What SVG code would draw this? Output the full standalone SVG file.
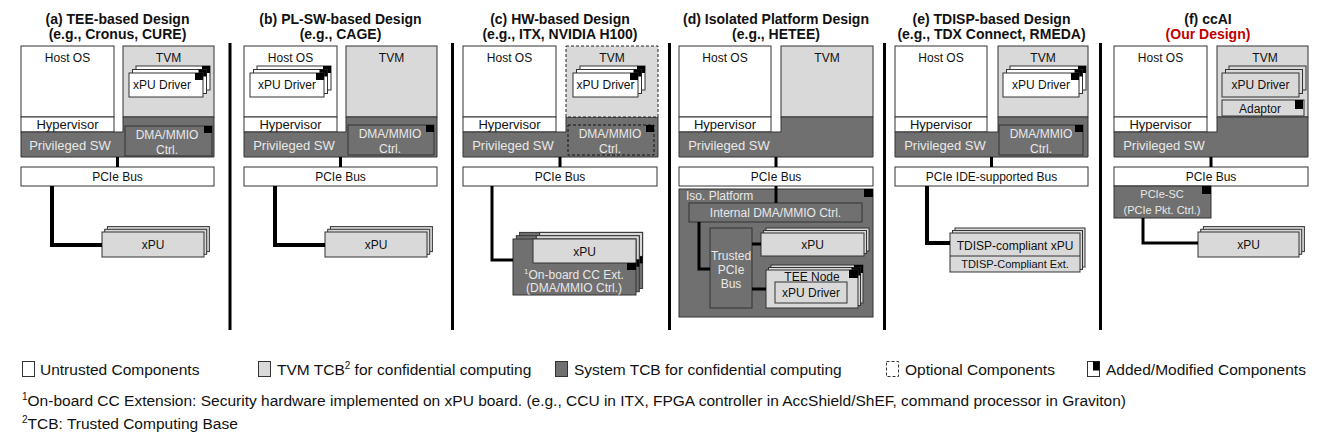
<svg xmlns="http://www.w3.org/2000/svg" width="1325" height="435" viewBox="0 0 1325 435">
<style>
text{font-family:"Liberation Sans",Arial,sans-serif;font-size:12px;text-anchor:middle;fill:#111}
.ttl{font-weight:bold;font-size:14px}
.red{fill:#c00000}
.hv{font-size:13px}
.lt{fill:#e8e8e8}
.sm{font-size:11px}
.lg{font-size:15.5px;text-anchor:start}
.st{text-anchor:start}
.w{fill:#fff;stroke:#333;stroke-width:1}
.l{fill:#d9d9d9;stroke:#333;stroke-width:1}
.d{fill:#707070;stroke:#333;stroke-width:1}
.ds{stroke-dasharray:3,2}
.mk{fill:#000;stroke:none}
.sep{stroke:#000;stroke-width:3}
.c4{stroke:#000;stroke-width:4;fill:none}
.c3{stroke:#000;stroke-width:3;fill:none}
</style>
<rect width="1325" height="435" fill="#fff"/>

<g id="separators">
<line class="sep" x1="230" y1="43" x2="230" y2="330"/>
<line class="sep" x1="452.5" y1="43" x2="452.5" y2="330"/>
<line class="sep" x1="669.5" y1="43" x2="669.5" y2="330"/>
<line class="sep" x1="884.5" y1="43" x2="884.5" y2="330"/>
<line class="sep" x1="1100.5" y1="43" x2="1100.5" y2="330"/>
</g>

<g id="titles">
<text class="ttl" x="117.5" y="24">(a) TEE-based Design</text>
<text class="ttl" x="117.5" y="39">(e.g., Cronus, CURE)</text>
<text class="ttl" x="340.5" y="24">(b) PL-SW-based Design</text>
<text class="ttl" x="340.5" y="39">(e.g., CAGE)</text>
<text class="ttl" x="560" y="24">(c) HW-based Design</text>
<text class="ttl" x="560" y="39">(e.g., ITX, NVIDIA H100)</text>
<text class="ttl" x="776" y="24">(d) Isolated Platform Design</text>
<text class="ttl" x="776" y="39">(e.g., HETEE)</text>
<text class="ttl" x="991.5" y="24">(e) TDISP-based Design</text>
<text class="ttl" x="991.5" y="39">(e.g., TDX Connect, RMEDA)</text>
<text class="ttl" x="1208" y="24">(f) ccAI</text>
<text class="ttl red" x="1208" y="39">(Our Design)</text>
</g>

<!-- ===== (a) ===== -->
<g id="a-host">
<rect class="w" x="21" y="46" width="93" height="71"/>
<text x="67.5" y="62">Host OS</text>
<rect class="w" x="21" y="117" width="93" height="15"/>
<text class="hv" x="67.5" y="129">Hypervisor</text>
</g>
<g id="a-tvm">
<rect class="l" x="123" y="46" width="91" height="71"/>
<text x="168.5" y="62">TVM</text>
</g>
<g id="a-priv">
<path class="d" d="M21,132 H123 V117 H214 V157 H21 Z"/>
<text class="hv lt" x="70" y="150">Privileged SW</text>
</g>
<g id="a-dma">
<rect class="d" x="125" y="126" width="87" height="30"/>
<rect class="mk" x="204" y="126" width="8" height="7"/>
<text class="lt" x="167" y="139">DMA/MMIO</text>
<text class="lt" x="167" y="154">Ctrl.</text>
</g>
<g id="a-driver">
<rect class="w" x="136" y="66" width="74" height="24"/><rect class="mk" x="202" y="66" width="8" height="7"/>
<rect class="w" x="132.5" y="69.5" width="74" height="24"/><rect class="mk" x="198.5" y="69.5" width="8" height="7"/>
<rect class="w" x="129" y="73" width="74" height="24"/><rect class="mk" x="195" y="73" width="8" height="7"/>
<text x="162" y="89">xPU Driver</text>
</g>
<g id="a-pcie">
<rect class="w" x="21" y="167" width="193" height="19"/>
<text x="117.5" y="181">PCIe Bus</text>
</g>
<g id="a-xpu">
<rect class="l" x="107.4" y="226.6" width="102" height="25"/>
<rect class="l" x="104.7" y="229.3" width="102" height="25"/>
<rect class="l" x="102" y="232" width="102" height="25"/>
<text x="153" y="249">xPU</text>
</g>

<!-- ===== (b) ===== -->
<g id="b-host">
<rect class="w" x="244" y="46" width="93" height="71"/>
<text x="290.5" y="62">Host OS</text>
<rect class="w" x="244" y="117" width="93" height="15"/>
<text class="hv" x="290.5" y="129">Hypervisor</text>
</g>
<g id="b-driver">
<rect class="w" x="257" y="66" width="74" height="24"/><rect class="mk" x="323" y="66" width="8" height="7"/>
<rect class="w" x="253.5" y="69.5" width="74" height="24"/><rect class="mk" x="319.5" y="69.5" width="8" height="7"/>
<rect class="w" x="250" y="73" width="74" height="24"/><rect class="mk" x="316" y="73" width="8" height="7"/>
<text x="287" y="89">xPU Driver</text>
</g>
<g id="b-tvm">
<rect class="l" x="346" y="46" width="91" height="71"/>
<text x="391.5" y="62">TVM</text>
</g>
<g id="b-priv">
<path class="d" d="M244,132 H346 V117 H437 V157 H244 Z"/>
<text class="hv lt" x="294" y="150">Privileged SW</text>
</g>
<g id="b-dma">
<rect class="d" x="348" y="125" width="86" height="30"/>
<rect class="mk" x="426" y="125" width="8" height="7"/>
<text class="lt" x="390" y="138">DMA/MMIO</text>
<text class="lt" x="390" y="153">Ctrl.</text>
</g>
<g id="b-pcie">
<rect class="w" x="244" y="167" width="193" height="19"/>
<text x="340.5" y="181">PCIe Bus</text>
</g>
<g id="b-xpu">
<rect class="l" x="330.4" y="226.6" width="102" height="25"/>
<rect class="l" x="327.7" y="229.3" width="102" height="25"/>
<rect class="l" x="325" y="232" width="102" height="25"/>
<text x="376" y="249">xPU</text>
</g>

<!-- ===== (c) ===== -->
<g id="c-host">
<rect class="w" x="463" y="46" width="93" height="71"/>
<text x="509.5" y="62">Host OS</text>
<rect class="w" x="463" y="117" width="93" height="15"/>
<text class="hv" x="509.5" y="129">Hypervisor</text>
</g>
<g id="c-priv">
<path class="d" d="M463,132 H566 V117 H658 V157 H463 Z"/>
<text class="hv lt" x="513" y="150">Privileged SW</text>
</g>
<g id="c-tvm">
<rect class="l ds" x="566" y="46" width="92" height="71" style="stroke:#222"/>
<text x="612" y="62">TVM</text>
</g>
<g id="c-driver">
<rect class="w" x="580" y="66" width="65" height="24"/><rect class="mk" x="637" y="66" width="8" height="7"/>
<rect class="w" x="576.5" y="69.5" width="65" height="24"/><rect class="mk" x="633.5" y="69.5" width="8" height="7"/>
<rect class="w" x="573" y="73" width="65" height="24"/><rect class="mk" x="630" y="73" width="8" height="7"/>
<text x="605.5" y="89">xPU Driver</text>
</g>
<g id="c-dma">
<rect class="d ds" x="568" y="125" width="86" height="30" style="stroke:#111"/>
<rect class="mk" x="646" y="125" width="8" height="7"/>
<text class="lt" x="610" y="138">DMA/MMIO</text>
<text class="lt" x="610" y="153">Ctrl.</text>
</g>
<g id="c-pcie">
<rect class="w" x="463" y="167" width="194" height="19"/>
<text x="560" y="181">PCIe Bus</text>
</g>
<g id="c-board">
<rect class="d" x="519.6" y="232.4" width="123" height="56"/><rect class="l" x="539.6" y="232.4" width="103" height="24"/><rect class="mk" x="633.6" y="256.4" width="9" height="7"/>
<rect class="d" x="516.3" y="235.7" width="123" height="56"/><rect class="l" x="536.3" y="235.7" width="103" height="24"/><rect class="mk" x="630.3" y="259.7" width="9" height="7"/>
<rect class="d" x="513" y="239" width="123" height="56"/><rect class="l" x="533" y="239" width="103" height="24"/><rect class="mk" x="627" y="263" width="9" height="7"/>
<text x="584.5" y="256">xPU</text>
<text class="lt" x="574" y="279"><tspan font-size="8" dy="-5">1</tspan><tspan dy="5">On-board CC Ext.</tspan></text>
<text class="lt" x="574" y="292">(DMA/MMIO Ctrl.)</text>
</g>

<!-- ===== (d) ===== -->
<g id="d-host">
<rect class="w" x="679" y="46" width="92" height="71"/>
<text x="725" y="62">Host OS</text>
<rect class="w" x="679" y="117" width="92" height="15"/>
<text class="hv" x="725" y="129">Hypervisor</text>
</g>
<g id="d-tvm">
<rect class="l" x="781" y="46" width="92" height="71"/>
<text x="827" y="62">TVM</text>
</g>
<g id="d-priv">
<path class="d" d="M679,132 H781 V117 H873 V157 H679 Z"/>
<text class="hv lt" x="729" y="150">Privileged SW</text>
</g>
<g id="d-pcie">
<rect class="w" x="679" y="167" width="194" height="19"/>
<text x="776" y="181">PCIe Bus</text>
</g>
<g id="d-iso">
<rect class="d" x="679" y="189" width="194" height="128"/>
<rect class="mk" x="864" y="189" width="9" height="8"/>
<text class="lt st" x="686" y="200">Iso. Platform</text>
</g>
<g id="d-idma">
<rect class="d" x="689" y="203" width="173" height="19"/>
<text class="lt" x="775.5" y="217">Internal DMA/MMIO Ctrl.</text>
</g>
<g id="d-tbus">
<rect class="d" x="710" y="228" width="42" height="80"/>
<text class="lt" x="731" y="260">Trusted</text>
<text class="lt" x="731" y="274">PCIe</text>
<text class="lt" x="731" y="288">Bus</text>
</g>
<g id="d-xpu">
<rect class="l" x="766" y="228" width="103" height="23"/>
<rect class="l" x="763.5" y="230.5" width="103" height="23"/>
<rect class="l" x="761" y="233" width="103" height="23"/>
<text x="812.5" y="249">xPU</text>
</g>
<g id="d-tee">
<rect class="l" x="771" y="265" width="92" height="38"/><rect class="mk" x="854" y="265" width="9" height="8"/>
<rect class="l" x="768.5" y="267.5" width="92" height="38"/><rect class="mk" x="851.5" y="267.5" width="9" height="8"/>
<rect class="l" x="766" y="270" width="92" height="38"/><rect class="mk" x="849" y="270" width="9" height="8"/>
<text x="812" y="281">TEE Node</text>
<rect class="l" x="775" y="282" width="72" height="21"/>
<text x="811" y="297">xPU Driver</text>
</g>

<!-- ===== (e) ===== -->
<g id="e-host">
<rect class="w" x="895" y="46" width="92" height="71"/>
<text x="941" y="62">Host OS</text>
<rect class="w" x="895" y="117" width="92" height="15"/>
<text class="hv" x="941" y="129">Hypervisor</text>
</g>
<g id="e-tvm">
<rect class="l" x="998" y="46" width="90" height="71"/>
<text x="1043" y="62">TVM</text>
</g>
<g id="e-driver">
<rect class="w" x="1010" y="66" width="76" height="24"/><rect class="mk" x="1078" y="66" width="8" height="7"/>
<rect class="w" x="1006.5" y="69.5" width="76" height="24"/><rect class="mk" x="1074.5" y="69.5" width="8" height="7"/>
<rect class="w" x="1003" y="73" width="76" height="24"/><rect class="mk" x="1071" y="73" width="8" height="7"/>
<text x="1041" y="89">xPU Driver</text>
</g>
<g id="e-priv">
<path class="d" d="M895,132 H998 V117 H1088 V157 H895 Z"/>
<text class="hv lt" x="945" y="150">Privileged SW</text>
</g>
<g id="e-dma">
<rect class="d" x="999" y="125" width="84" height="30"/>
<rect class="mk" x="1075" y="125" width="8" height="7"/>
<text class="lt" x="1041" y="138">DMA/MMIO</text>
<text class="lt" x="1041" y="153">Ctrl.</text>
</g>
<g id="e-pcie">
<rect class="w" x="895" y="167" width="193" height="19"/>
<text x="991.5" y="181">PCIe IDE-supported Bus</text>
</g>
<g id="e-xpu">
<rect class="l" x="955" y="228" width="130" height="39"/>
<rect class="l" x="952.5" y="230.5" width="130" height="39"/>
<rect class="l" x="950" y="233" width="130" height="39"/>
<line x1="950" y1="256" x2="1080" y2="256" stroke="#333"/>
<text x="1015" y="250">TDISP-compliant xPU</text>
<text class="sm" x="1015" y="268">TDISP-Compliant Ext.</text>
</g>

<!-- ===== (f) ===== -->
<g id="f-host">
<rect class="w" x="1114" y="46" width="93" height="71"/>
<text x="1160.5" y="62">Host OS</text>
<rect class="w" x="1114" y="117" width="93" height="15"/>
<text class="hv" x="1160.5" y="129">Hypervisor</text>
</g>
<g id="f-tvm">
<rect class="l" x="1217" y="46" width="91" height="71"/>
<text x="1265" y="62">TVM</text>
</g>
<g id="f-driver">
<rect class="l" x="1229" y="66" width="77" height="24"/>
<rect class="l" x="1225.5" y="69.5" width="77" height="24"/>
<rect class="l" x="1222" y="73" width="77" height="24"/>
<text x="1260.5" y="89">xPU Driver</text>
</g>
<g id="f-adaptor">
<rect class="l" x="1222" y="100" width="82" height="16"/>
<rect class="mk" x="1295" y="100" width="8" height="9"/>
<text x="1260" y="113">Adaptor</text>
</g>
<g id="f-priv">
<path class="d" d="M1114,132 H1217 V117 H1308 V157 H1114 Z"/>
<text class="hv lt" x="1164" y="150">Privileged SW</text>
</g>
<g id="f-pcie">
<rect class="w" x="1114" y="167" width="194" height="19"/>
<text x="1211" y="181">PCIe Bus</text>
</g>
<g id="f-pciesc">
<rect class="d" x="1114" y="186" width="97" height="32"/>
<rect class="mk" x="1202" y="186" width="9" height="8"/>
<text class="sm lt" x="1162" y="198">PCIe-SC</text>
<text class="sm lt" x="1162" y="214">(PCIe Pkt. Ctrl.)</text>
</g>
<g id="f-xpu">
<rect class="l" x="1203.4" y="226.6" width="101" height="25"/>
<rect class="l" x="1200.7" y="229.3" width="101" height="25"/>
<rect class="l" x="1198" y="232" width="101" height="25"/>
<text x="1248.5" y="249">xPU</text>
</g>

<g id="connectors">
<line class="c3" x1="117.5" y1="157" x2="117.5" y2="167"/>
<path class="c4" d="M52,186 V245 H102"/>
<line class="c3" x1="340.5" y1="157" x2="340.5" y2="167"/>
<path class="c4" d="M275,186 V245 H325"/>
<line class="c3" x1="560" y1="157" x2="560" y2="167"/>
<path class="c3" d="M492,186 V260 H513"/>
<line class="c3" x1="776" y1="157" x2="776" y2="167"/>
<line class="c3" x1="776" y1="186" x2="776" y2="203"/>
<path class="c3" d="M699,222 V269 H710"/>
<line class="c3" x1="752" y1="244" x2="761" y2="244"/>
<line class="c3" x1="752" y1="289" x2="766" y2="289"/>
<line class="c3" x1="991.5" y1="157" x2="991.5" y2="167"/>
<path class="c4" d="M927,186 V243 H950"/>
<line class="c3" x1="1211" y1="157" x2="1211" y2="167"/>
<path class="c3" d="M1143,218 V243 H1198"/>
</g>

<g id="legend">
<rect class="w" x="22.5" y="361.5" width="12" height="15"/>
<text class="lg" x="40" y="375">Untrusted Components</text>
<rect class="l" x="258.5" y="361.5" width="12" height="15"/>
<text class="lg" x="277" y="375">TVM TCB<tspan font-size="10" dy="-6">2</tspan><tspan dy="6"> for confidential computing</tspan></text>
<rect class="d" x="555.5" y="361.5" width="12" height="15"/>
<text class="lg" x="574" y="375">System TCB for confidential computing</text>
<rect class="w ds" x="886.5" y="361.5" width="12" height="15"/>
<text class="lg" x="905" y="375">Optional Components</text>
<rect class="w" x="1087.5" y="361.5" width="12" height="15"/>
<rect class="mk" x="1093" y="361.5" width="6.5" height="9"/>
<text class="lg" x="1106" y="375">Added/Modified Components</text>
</g>
<g id="footnotes">
<text class="lg" x="22" y="406" font-size="15.3"><tspan font-size="10" dy="-6">1</tspan><tspan dy="6">On-board CC Extension: Security hardware implemented on xPU board. (e.g., CCU in ITX, FPGA controller in AccShield/ShEF, command processor in Graviton)</tspan></text>
<text class="lg" x="22" y="429"><tspan font-size="10" dy="-6">2</tspan><tspan dy="6">TCB: Trusted Computing Base</tspan></text>
</g>
</svg>
